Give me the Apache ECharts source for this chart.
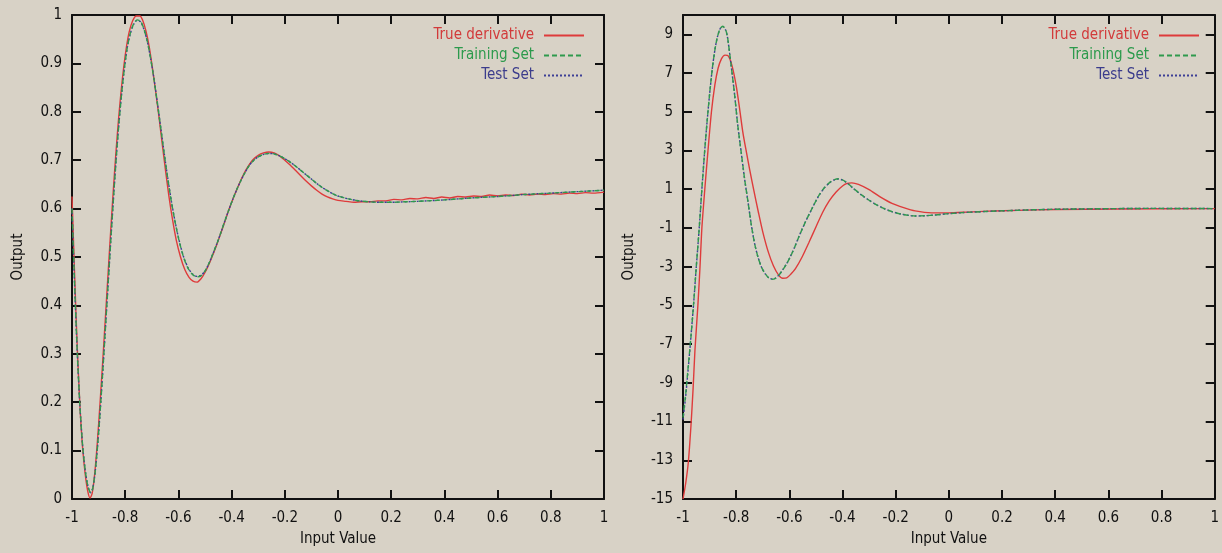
<!DOCTYPE html>
<html>
<head>
<meta charset="utf-8">
<title>Derivative approximation</title>
<script src="https://cdn.jsdelivr.net/npm/echarts@6/dist/echarts.min.js"></script>
<style>
  html, body { margin: 0; padding: 0; background: #d8d2c6; }
  #chart { width: 1222px; height: 553px; }
</style>
</head>
<body>
<div id="chart"></div>
<script>
// ---- Series names ----
const seriesNames = ['True derivative', 'Training Set', 'Test Set'];

// ---- Left panel: network output vs. true function ----
const leftTrueX = [-1, -0.99, -0.98, -0.97, -0.96, -0.95, -0.94, -0.932, -0.924, -0.915,
  -0.905, -0.895, -0.885, -0.875, -0.865, -0.855, -0.845, -0.835, -0.825, -0.815,
  -0.805, -0.795, -0.785, -0.772, -0.758, -0.745, -0.735, -0.722, -0.71, -0.698,
  -0.685, -0.672, -0.66, -0.648, -0.636, -0.622, -0.608, -0.592, -0.576, -0.56,
  -0.545, -0.53, -0.515, -0.5, -0.485, -0.47, -0.455, -0.44, -0.425, -0.41,
  -0.395, -0.38, -0.365, -0.35, -0.335, -0.32, -0.3, -0.28, -0.26, -0.24,
  -0.22, -0.2, -0.18, -0.16, -0.14, -0.12, -0.1, -0.08, -0.06, -0.04,
  -0.02, 0, 0.03, 0.06, 0.09, 0.12, 0.15, 0.18, 0.21, 0.24,
  0.27, 0.3, 0.33, 0.36, 0.39, 0.42, 0.45, 0.48, 0.51, 0.54,
  0.57, 0.6, 0.63, 0.66, 0.69, 0.72, 0.75, 0.78, 0.81, 0.84,
  0.87, 0.9, 0.93, 0.96, 1];
const leftTrueY = [0.625, 0.46, 0.31, 0.19, 0.105, 0.05, 0.014, 0.002, 0.012, 0.05,
  0.115, 0.195, 0.28, 0.37, 0.46, 0.55, 0.635, 0.715, 0.785, 0.845,
  0.895, 0.935, 0.965, 0.988, 0.998, 0.998, 0.99, 0.967, 0.935, 0.892,
  0.84, 0.785, 0.73, 0.677, 0.627, 0.577, 0.535, 0.5, 0.474, 0.458,
  0.45, 0.448, 0.455, 0.468, 0.485, 0.505, 0.527, 0.55, 0.574, 0.598,
  0.62, 0.64, 0.659, 0.676, 0.69, 0.701, 0.71, 0.715, 0.717, 0.715,
  0.709, 0.7, 0.69, 0.679, 0.668, 0.657, 0.647, 0.638, 0.63, 0.624,
  0.62, 0.617, 0.615, 0.613, 0.614, 0.614, 0.616, 0.616, 0.619, 0.618,
  0.621, 0.62, 0.623, 0.621, 0.624, 0.622, 0.625, 0.624, 0.626, 0.625,
  0.628, 0.626, 0.628, 0.627, 0.63, 0.628, 0.63, 0.629, 0.631, 0.63,
  0.632, 0.631, 0.633, 0.632, 0.634];

const leftNetX = [-1, -0.99, -0.98, -0.97, -0.96, -0.95, -0.94, -0.93, -0.922, -0.913,
  -0.903, -0.893, -0.883, -0.873, -0.863, -0.853, -0.843, -0.833, -0.823, -0.813,
  -0.803, -0.793, -0.781, -0.768, -0.755, -0.742, -0.73, -0.717, -0.705, -0.692,
  -0.679, -0.666, -0.653, -0.64, -0.626, -0.611, -0.595, -0.579, -0.563, -0.547,
  -0.531, -0.515, -0.5, -0.485, -0.47, -0.455, -0.44, -0.425, -0.41, -0.395,
  -0.38, -0.365, -0.35, -0.335, -0.32, -0.3, -0.28, -0.26, -0.24, -0.22,
  -0.2, -0.18, -0.16, -0.14, -0.12, -0.1, -0.08, -0.06, -0.04, -0.02,
  0, 0.04, 0.08, 0.12, 0.16, 0.2, 0.25, 0.3, 0.4, 0.5,
  0.6, 0.7, 0.8, 0.9, 1];
const leftTrainY = [0.6, 0.44, 0.3, 0.19, 0.11, 0.058, 0.026, 0.013, 0.022, 0.055,
  0.115, 0.19, 0.275, 0.365, 0.455, 0.545, 0.63, 0.71, 0.78, 0.84,
  0.89, 0.93, 0.962, 0.982, 0.99, 0.987, 0.972, 0.946, 0.912, 0.868,
  0.818, 0.765, 0.712, 0.662, 0.613, 0.568, 0.528, 0.497, 0.476, 0.464,
  0.459, 0.461, 0.471, 0.487, 0.507, 0.528, 0.551, 0.575, 0.598, 0.62,
  0.64, 0.658, 0.674, 0.688, 0.698, 0.707, 0.712, 0.714, 0.713, 0.709,
  0.703, 0.696, 0.688, 0.679, 0.67, 0.661, 0.652, 0.644, 0.637, 0.631,
  0.626, 0.62, 0.616, 0.614, 0.613, 0.613, 0.614, 0.615, 0.618, 0.622,
  0.625, 0.629, 0.632, 0.635, 0.638];
const leftTestY = [0.6, 0.44, 0.3, 0.19, 0.11, 0.058, 0.026, 0.013, 0.022, 0.055,
  0.115, 0.19, 0.275, 0.365, 0.455, 0.545, 0.63, 0.71, 0.78, 0.84,
  0.89, 0.93, 0.961, 0.981, 0.989, 0.986, 0.971, 0.946, 0.912, 0.869,
  0.819, 0.766, 0.713, 0.663, 0.614, 0.569, 0.529, 0.498, 0.477, 0.465,
  0.46, 0.462, 0.471, 0.487, 0.507, 0.528, 0.551, 0.575, 0.598, 0.62,
  0.64, 0.658, 0.674, 0.688, 0.698, 0.707, 0.712, 0.714, 0.713, 0.709,
  0.703, 0.696, 0.688, 0.679, 0.67, 0.661, 0.652, 0.644, 0.637, 0.631,
  0.626, 0.62, 0.616, 0.614, 0.613, 0.613, 0.614, 0.615, 0.618, 0.622,
  0.625, 0.629, 0.632, 0.635, 0.638];

// ---- Right panel: derivative of the network output ----
const rightTrueX = [-1, -0.99, -0.98, -0.97, -0.962, -0.955, -0.944, -0.936, -0.929, -0.918,
  -0.906, -0.893, -0.88, -0.868, -0.855, -0.842, -0.829, -0.815, -0.8, -0.787,
  -0.775, -0.762, -0.749, -0.733, -0.717, -0.7, -0.679, -0.66, -0.641, -0.625,
  -0.61, -0.594, -0.577, -0.552, -0.526, -0.5, -0.475, -0.45, -0.424, -0.4,
  -0.383, -0.365, -0.34, -0.3, -0.26, -0.214, -0.17, -0.127, -0.065, 0,
  0.07, 0.15, 0.26, 0.4, 0.634, 1];
const rightTrueY = [-15, -14.2, -13.1, -11.2, -9.3, -7.3, -5.0, -3.0, -1.0, 1.0,
  3.0, 5.0, 6.4, 7.25, 7.75, 7.93, 7.88, 7.35, 6.35, 5.15,
  3.95, 2.95, 2.0, 0.9, -0.15, -1.2, -2.25, -2.95, -3.42, -3.6,
  -3.58, -3.38, -3.1, -2.5, -1.74, -0.95, -0.2, 0.4, 0.86, 1.17,
  1.3, 1.33, 1.25, 0.98, 0.62, 0.27, 0.05, -0.12, -0.22, -0.22,
  -0.18, -0.13, -0.09, -0.05, -0.02, 0.0];

const rightNetX = [-1, -0.99, -0.98, -0.97, -0.96, -0.95, -0.94, -0.93, -0.92, -0.91,
  -0.9, -0.89, -0.88, -0.87, -0.86, -0.85, -0.84, -0.833, -0.819, -0.806,
  -0.794, -0.781, -0.768, -0.755, -0.743, -0.73, -0.717, -0.704, -0.69, -0.678,
  -0.666, -0.652, -0.638, -0.624, -0.61, -0.595, -0.58, -0.564, -0.54, -0.513,
  -0.49, -0.47, -0.45, -0.43, -0.415, -0.4, -0.382, -0.36, -0.33, -0.3,
  -0.27, -0.24, -0.214, -0.18, -0.15, -0.127, -0.09, -0.052, 0, 0.05,
  0.135, 0.25, 0.383, 0.55, 0.757, 1];
const rightTrainY = [-10.8, -9.6, -8.1, -6.6, -4.9, -3.0, -1.2, 0.8, 2.7, 4.4,
  5.9, 7.2, 8.2, 8.9, 9.3, 9.42, 9.25, 8.9, 7.4, 5.9,
  4.3, 2.9, 1.5, 0.3, -0.85, -1.85, -2.55, -3.05, -3.38, -3.57,
  -3.65, -3.6, -3.42, -3.15, -2.85, -2.45, -2.0, -1.45, -0.7, 0.05,
  0.65, 1.05, 1.33, 1.5, 1.54, 1.48, 1.32, 1.06, 0.72, 0.43,
  0.18, -0.02, -0.16, -0.28, -0.35, -0.38, -0.37, -0.33, -0.26, -0.21,
  -0.15, -0.09, -0.04, -0.01, 0.01, 0.0];
const rightTestY = [-10.9, -9.7, -8.2, -6.6, -4.9, -3.0, -1.2, 0.8, 2.7, 4.4,
  5.9, 7.2, 8.2, 8.9, 9.3, 9.4, 9.23, 8.88, 7.4, 5.9,
  4.3, 2.9, 1.5, 0.3, -0.85, -1.85, -2.55, -3.05, -3.38, -3.57,
  -3.64, -3.59, -3.41, -3.14, -2.84, -2.44, -1.99, -1.44, -0.7, 0.05,
  0.64, 1.04, 1.32, 1.49, 1.53, 1.47, 1.31, 1.05, 0.72, 0.43,
  0.18, -0.02, -0.16, -0.28, -0.35, -0.38, -0.37, -0.33, -0.26, -0.21,
  -0.15, -0.09, -0.04, -0.01, 0.01, 0.0];

// ---- Axis ticks ----
const xTickInterval = 0.2;
const leftYTicks = [0, 0.1, 0.2, 0.3, 0.4, 0.5, 0.6, 0.7, 0.8, 0.9, 1];
const rightYTicks = [-15, -13, -11, -9, -7, -5, -3, -1, 1, 3, 5, 7, 9];

const xName = 'Input Value';
const yName = 'Output';

const colors = { red: '#de3b3b', green: '#2f9a4d', blue: '#3d3f95' };
const labelColors = ['#d23a3a', '#2c9a4c', '#3b3c8c'];

const FONT = "'DejaVu Sans Condensed', 'Liberation Sans', sans-serif";
const FS = 15;

function pairs(xs, ys) {
  return xs.map(function (x, i) { return [x, ys[i]]; });
}

const axisLine = { show: true, onZero: false, lineStyle: { color: '#111', width: 2 } };
const tickIn = { show: true, inside: true, length: 9, lineStyle: { color: '#111', width: 2 } };
const labelStyle = { color: '#111', fontFamily: FONT, fontSize: FS };

function xAxes(gridIndex) {
  return [
    {
      type: 'value', gridIndex: gridIndex, position: 'bottom', min: -1, max: 1, interval: xTickInterval,
      axisLine: axisLine, axisTick: tickIn, splitLine: { show: false },
      axisLabel: Object.assign({ margin: 12, showMinLabel: true, showMaxLabel: true }, labelStyle),
      name: xName, nameLocation: 'middle', nameGap: 33,
      nameTextStyle: { color: '#111', fontFamily: FONT, fontSize: FS }
    },
    {
      type: 'value', gridIndex: gridIndex, position: 'top', min: -1, max: 1, interval: xTickInterval,
      axisLine: axisLine, axisTick: tickIn, splitLine: { show: false }, axisLabel: { show: false }
    }
  ];
}

function yAxes(gridIndex, min, max, ticks) {
  return [
    {
      type: 'value', gridIndex: gridIndex, position: 'left', min: min, max: max,
      axisLine: axisLine,
      axisTick: Object.assign({ customValues: ticks }, tickIn),
      splitLine: { show: false },
      axisLabel: Object.assign({ margin: 10, customValues: ticks, showMinLabel: true, showMaxLabel: true }, labelStyle),
      name: yName, nameLocation: 'middle', nameRotate: 90, nameGap: 46,
      nameTextStyle: { color: '#111', fontFamily: FONT, fontSize: FS }
    },
    {
      type: 'value', gridIndex: gridIndex, position: 'right', min: min, max: max,
      axisLine: axisLine,
      axisTick: Object.assign({ customValues: ticks }, tickIn),
      splitLine: { show: false }, axisLabel: { show: false }
    }
  ];
}

function lineSeries(name, xi, yi, data, color, type) {
  return {
    name: name, type: 'line', xAxisIndex: xi, yAxisIndex: yi, data: data,
    showSymbol: false, symbol: 'none', smooth: 0.25, animation: false,
    lineStyle: { color: color, width: 1.4, type: type },
    itemStyle: { color: color }
  };
}

function legendFor(right) {
  return {
    orient: 'vertical', align: 'right', right: right, top: 23,
    itemWidth: 40, itemHeight: 14, itemGap: 5,
    selectedMode: false,
    itemStyle: { opacity: 0, borderWidth: 0 },
    textStyle: { fontFamily: FONT, fontSize: FS, lineHeight: 14, padding: [0, 5, 0, 0] },
    data: seriesNames.map(function (n, i) {
      return { name: n, itemStyle: { opacity: 0, borderWidth: 0 }, textStyle: { color: labelColors[i] } };
    })
  };
}

const chart = echarts.init(document.getElementById('chart'), null, { renderer: 'canvas' });
chart.setOption({
  backgroundColor: '#d8d2c6',
  animation: false,
  grid: [
    { left: 72, top: 15, width: 532, height: 484 },
    { left: 683, top: 15, width: 535, height: 484 }
  ],
  xAxis: xAxes(0).concat(xAxes(1)),
  yAxis: yAxes(0, 0, 1, leftYTicks).concat(yAxes(1, -15, 10, rightYTicks)),
  legend: [legendFor(632), legendFor(17)],
  series: [
    lineSeries(seriesNames[0], 0, 0, pairs(leftTrueX, leftTrueY), colors.red, 'solid'),
    lineSeries(seriesNames[2], 0, 0, pairs(leftNetX, leftTestY), colors.blue, [2, 2]),
    lineSeries(seriesNames[1], 0, 0, pairs(leftNetX, leftTrainY), colors.green, [5, 3]),
    lineSeries(seriesNames[0], 2, 2, pairs(rightTrueX, rightTrueY), colors.red, 'solid'),
    lineSeries(seriesNames[2], 2, 2, pairs(rightNetX, rightTestY), colors.blue, [2, 2]),
    lineSeries(seriesNames[1], 2, 2, pairs(rightNetX, rightTrainY), colors.green, [5, 3])
  ]
});
</script>
</body>
</html>
